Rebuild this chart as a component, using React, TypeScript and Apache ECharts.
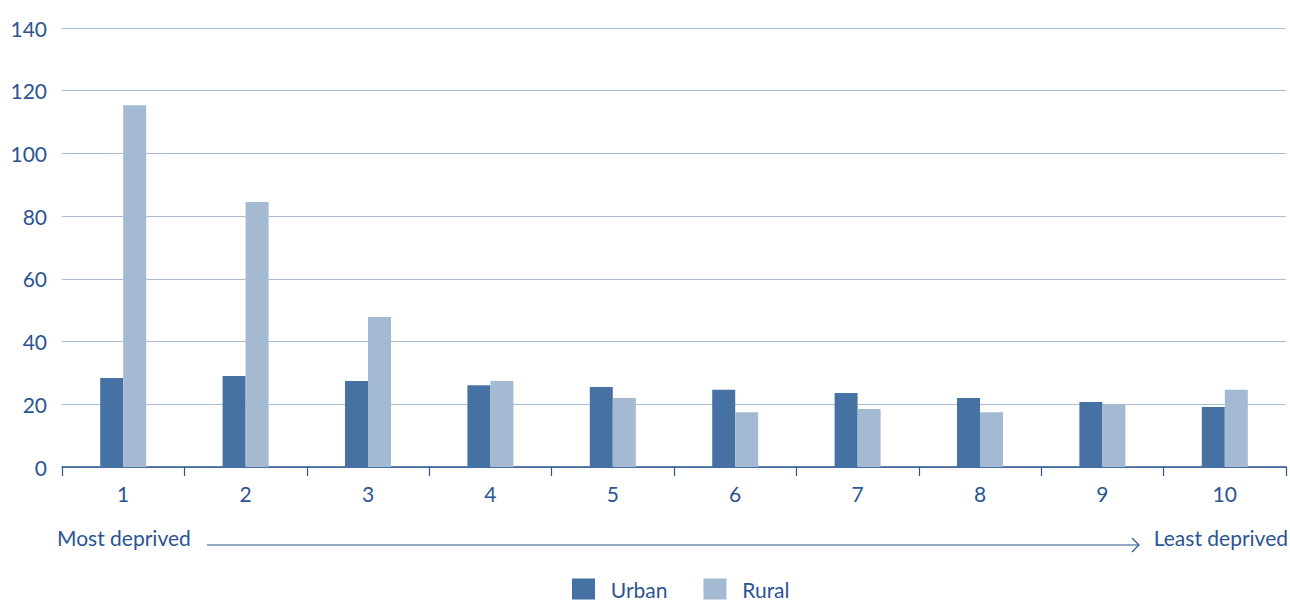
import React, { useEffect, useRef } from "react";
import * as echarts from "echarts";

const categories = ["1", "2", "3", "4", "5", "6", "7", "8", "9", "10"];
const urban = [28.4, 29.0, 27.4, 26.1, 25.5, 24.6, 23.6, 22.0, 20.7, 19.1];
const rural = [115.4, 84.5, 47.8, 27.4, 22.0, 17.5, 18.5, 17.5, 19.8, 24.6];
const seriesNames = ["Urban", "Rural"];
const leftNote = "Most deprived";
const rightNote = "Least deprived";

const TEXT = "#2b5592";
const FONT = "Lato, 'Open Sans', sans-serif";
const FS = 21;

export default function App() {
  const ref = useRef<HTMLDivElement>(null);
  useEffect(() => {
    if (!ref.current) return;
    const chart = echarts.init(ref.current, null, { renderer: "svg" });
    chart.setOption({
      animation: false,
      textStyle: { fontFamily: FONT },
      grid: { left: 62, right: 4, top: 28, bottom: 134, containLabel: false },
      legend: {
        data: seriesNames,
        top: 573,
        left: 567,
        padding: 5,
        itemWidth: 23,
        itemHeight: 21,
        itemGap: 36,
        icon: "rect",
        formatter: (n: string) => "  " + n,
        textStyle: { color: TEXT, fontSize: FS, fontFamily: FONT, lineHeight: 22 },
      },
      xAxis: {
        type: "category",
        data: categories,
        boundaryGap: true,
        axisLine: { lineStyle: { color: TEXT, width: 1.5 } },
        axisTick: { show: true, length: 9, lineStyle: { color: TEXT, width: 1.2 } },
        axisLabel: { color: TEXT, fontSize: FS, margin: 16, fontFamily: FONT },
        splitLine: { show: false },
      },
      yAxis: {
        type: "value",
        min: 0,
        max: 140,
        interval: 20,
        axisLine: { show: false },
        axisTick: { show: false },
        axisLabel: { color: TEXT, fontSize: FS, margin: 15, fontFamily: FONT },
        splitLine: { lineStyle: { color: "#a9bdd5", width: 1.2 } },
      },
      series: [
        {
          name: seriesNames[0],
          type: "bar",
          data: urban,
          barWidth: 23,
          barGap: "0%",
          itemStyle: { color: "#4572a3" },
        },
        {
          name: seriesNames[1],
          type: "bar",
          data: rural,
          barWidth: 23,
          barGap: "0%",
          itemStyle: { color: "#a4b9d2" },
        },
      ],
      graphic: [
        {
          type: "text",
          left: 57,
          top: 527,
          style: { text: leftNote, fill: TEXT, fontSize: FS, fontFamily: FONT },
        },
        {
          type: "text",
          right: 2,
          top: 527,
          style: { text: rightNote, fill: TEXT, fontSize: FS, fontFamily: FONT },
        },
        {
          type: "line",
          shape: { x1: 207, y1: 545, x2: 1138, y2: 545 },
          style: { stroke: TEXT, lineWidth: 1.2 },
        },
        {
          type: "polyline",
          shape: { points: [[1132, 538], [1139, 545], [1132, 552]] },
          style: { stroke: TEXT, lineWidth: 1.2, fill: "none" },
        },
      ],
    });
    return () => chart.dispose();
  }, []);
  return <div ref={ref} style={{ width: 1290, height: 601, position: "absolute", left: 0, top: 0 }} />;
}
